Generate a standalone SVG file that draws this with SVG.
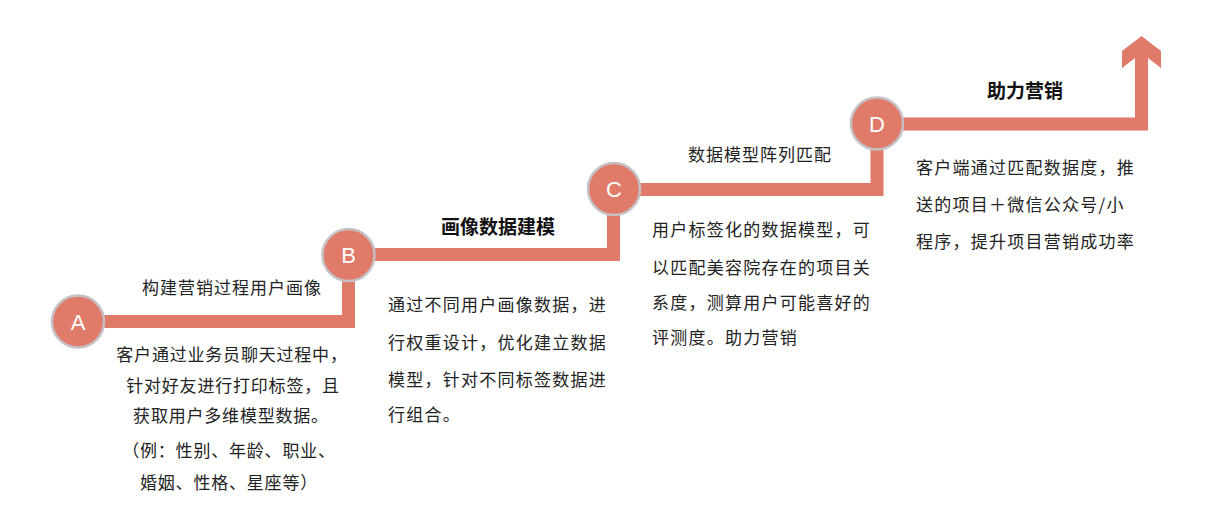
<svg xmlns="http://www.w3.org/2000/svg" width="1206" height="512" viewBox="0 0 1206 512">
<style>
.node-circle{fill:#E07B6A;stroke:#C6C0C4;stroke-width:2.5}
.letter{font-family:"Liberation Sans",Arial,sans-serif;font-size:22px;fill:#ffffff;text-anchor:middle}
.body{font-family:"Noto Sans CJK SC","Microsoft YaHei",sans-serif;font-size:17px;fill:#222222;letter-spacing:1.25px}
.label{font-family:"Noto Sans CJK SC","Microsoft YaHei",sans-serif;font-size:17px;fill:#222222;letter-spacing:1px;text-anchor:middle}
.title{font-family:"Noto Sans CJK SC","Microsoft YaHei",sans-serif;font-size:19px;font-weight:bold;fill:#111111;text-anchor:middle}
.conn{fill:none;stroke:#E07B6A;stroke-width:13;stroke-linejoin:miter;stroke-linecap:butt}
</style>
<rect width="1206" height="512" fill="#ffffff"/>
<g id="connectors">
<path class="conn" d="M78,321.5 H348.5 V254.5 H613.5 V189.5 H877 V124 H1141.5 V57"/>
<polygon fill="#E07B6A" points="1141.5,36 1161,51 1161,68 1148,58 1135,58 1122,68 1122,51"/>
</g>
<g id="node-a">
<circle class="node-circle" cx="78" cy="321.5" r="26"/>
<text class="letter" x="78" y="329.5">A</text>
<text class="label" x="232" y="294">构建营销过程用户画像</text>
<text class="label" x="232" y="361" style="letter-spacing:0.8px">客户通过业务员聊天过程中，</text>
<text class="label" x="233" y="392" style="letter-spacing:0.8px">针对好友进行打印标签，且</text>
<text class="label" x="231" y="422" style="letter-spacing:0.8px">获取用户多维模型数据。</text>
<text class="label" x="229" y="457" style="letter-spacing:0.8px">（例：性别、年龄、职业、</text>
<text class="label" x="229" y="489" style="letter-spacing:0.8px">婚姻、性格、星座等）</text>
</g>
<g id="node-b">
<circle class="node-circle" cx="348.5" cy="255" r="26"/>
<text class="letter" x="348.5" y="263">B</text>
<text class="title" x="498" y="234">画像数据建模</text>
<text class="body" x="388" y="311">通过不同用户画像数据，进</text>
<text class="body" x="388" y="349">行权重设计，优化建立数据</text>
<text class="body" x="388" y="386">模型，针对不同标签数据进</text>
<text class="body" x="388" y="421">行组合。</text>
</g>
<g id="node-c">
<circle class="node-circle" cx="614" cy="189" r="26"/>
<text class="letter" x="614" y="197">C</text>
<text class="label" x="760" y="161">数据模型阵列匹配</text>
<text class="body" x="652" y="236">用户标签化的数据模型，可</text>
<text class="body" x="652" y="274">以匹配美容院存在的项目关</text>
<text class="body" x="652" y="309">系度，测算用户可能喜好的</text>
<text class="body" x="652" y="344">评测度。助力营销</text>
</g>
<g id="node-d">
<circle class="node-circle" cx="877" cy="123.5" r="26"/>
<text class="letter" x="877" y="131.5">D</text>
<text class="title" x="1025" y="98">助力营销</text>
<text class="body" x="916" y="174">客户端通过匹配数据度，推</text>
<text class="body" x="916" y="211">送的项目＋微信公众号/小</text>
<text class="body" x="916" y="248">程序，提升项目营销成功率</text>
</g>
</svg>
